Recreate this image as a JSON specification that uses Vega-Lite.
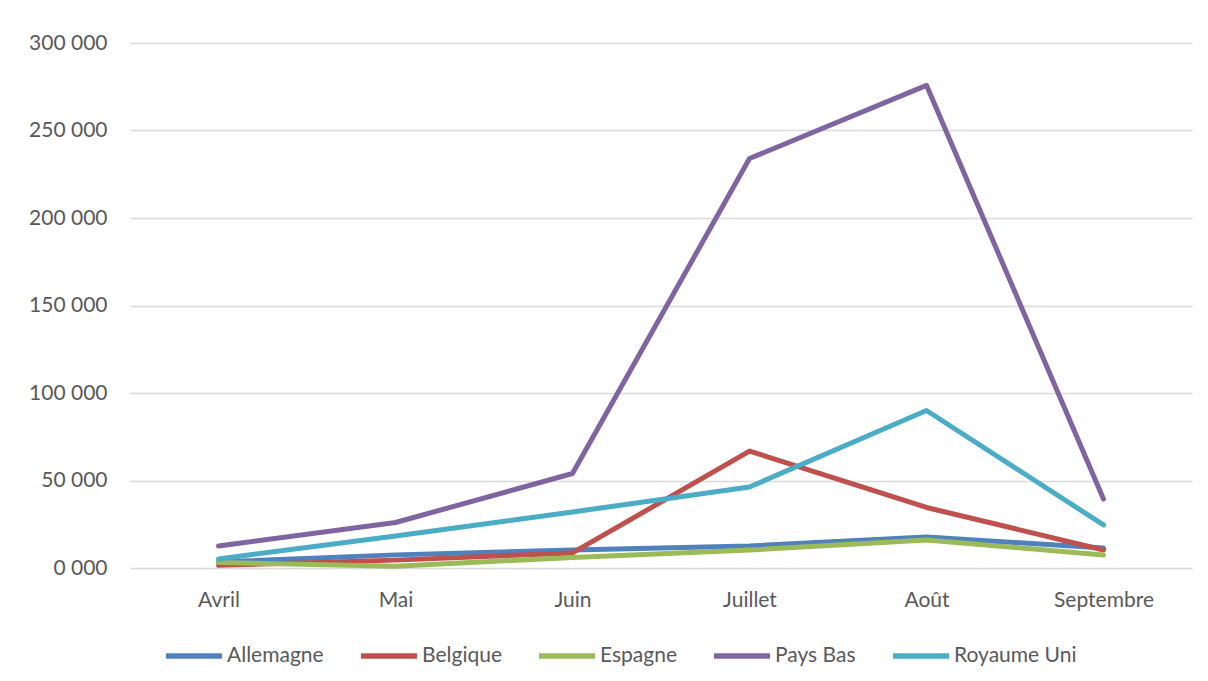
{
  "$schema": "https://vega.github.io/schema/vega-lite/v6.json",
  "autosize": {"type": "none"},
  "width": 1062,
  "height": 525,
  "padding": {"left": 130, "top": 43, "right": 16, "bottom": 113},
  "background": "white",
  "config": {
    "font": "Lato",
    "view": {"stroke": null}
  },
  "data": {
    "values": [
      {"mois": "Avril", "pays": "Allemagne", "valeur": 3500},
      {"mois": "Mai", "pays": "Allemagne", "valeur": 7500},
      {"mois": "Juin", "pays": "Allemagne", "valeur": 10300},
      {"mois": "Juillet", "pays": "Allemagne", "valeur": 12600},
      {"mois": "Août", "pays": "Allemagne", "valeur": 17700},
      {"mois": "Septembre", "pays": "Allemagne", "valeur": 11400},
      {"mois": "Avril", "pays": "Belgique", "valeur": 1500},
      {"mois": "Mai", "pays": "Belgique", "valeur": 4500},
      {"mois": "Juin", "pays": "Belgique", "valeur": 8600},
      {"mois": "Juillet", "pays": "Belgique", "valeur": 66800},
      {"mois": "Août", "pays": "Belgique", "valeur": 34600},
      {"mois": "Septembre", "pays": "Belgique", "valeur": 10300},
      {"mois": "Avril", "pays": "Espagne", "valeur": 3200},
      {"mois": "Mai", "pays": "Espagne", "valeur": 1000},
      {"mois": "Juin", "pays": "Espagne", "valeur": 6000},
      {"mois": "Juillet", "pays": "Espagne", "valeur": 10300},
      {"mois": "Août", "pays": "Espagne", "valeur": 16000},
      {"mois": "Septembre", "pays": "Espagne", "valeur": 7400},
      {"mois": "Avril", "pays": "Pays Bas", "valeur": 12600},
      {"mois": "Mai", "pays": "Pays Bas", "valeur": 26000},
      {"mois": "Juin", "pays": "Pays Bas", "valeur": 54000},
      {"mois": "Juillet", "pays": "Pays Bas", "valeur": 234000},
      {"mois": "Août", "pays": "Pays Bas", "valeur": 275800},
      {"mois": "Septembre", "pays": "Pays Bas", "valeur": 39400},
      {"mois": "Avril", "pays": "Royaume Uni", "valeur": 5200},
      {"mois": "Mai", "pays": "Royaume Uni", "valeur": 18300},
      {"mois": "Juin", "pays": "Royaume Uni", "valeur": 32000},
      {"mois": "Juillet", "pays": "Royaume Uni", "valeur": 46300},
      {"mois": "Août", "pays": "Royaume Uni", "valeur": 90000},
      {"mois": "Septembre", "pays": "Royaume Uni", "valeur": 24600}
    ]
  },
  "mark": {"type": "line", "strokeWidth": 5, "strokeCap": "round", "strokeJoin": "round"},
  "encoding": {
    "x": {
      "field": "mois",
      "type": "nominal",
      "sort": ["Avril", "Mai", "Juin", "Juillet", "Août", "Septembre"],
      "scale": {"type": "point", "padding": 0.5},
      "axis": {
        "title": null,
        "labelAngle": 0,
        "labelFontSize": 21,
        "labelColor": "#595959",
        "labelPadding": 21,
        "ticks": false,
        "domain": false,
        "grid": false
      }
    },
    "y": {
      "field": "valeur",
      "type": "quantitative",
      "scale": {"domain": [0, 300000], "nice": false},
      "axis": {
        "title": null,
        "values": [0, 50000, 100000, 150000, 200000, 250000, 300000],
        "labelExpr": "datum.value == 0 ? '0 000' : replace(format(datum.value, ','), ',', ' ')",
        "labelFontSize": 21,
        "labelColor": "#595959",
        "labelPadding": 23,
        "ticks": false,
        "domain": false,
        "gridColor": "#d9d9d9",
        "gridWidth": 1.5
      }
    },
    "color": {
      "field": "pays",
      "type": "nominal",
      "scale": {
        "domain": ["Allemagne", "Belgique", "Espagne", "Pays Bas", "Royaume Uni"],
        "range": ["#4F81BD", "#C0504D", "#9BBB59", "#8064A2", "#4BACC6"]
      },
      "legend": {
        "title": null,
        "orient": "none",
        "direction": "horizontal",
        "legendX": 33,
        "legendY": 582,
        "symbolType": "stroke",
        "symbolSize": 3136,
        "symbolStrokeWidth": 5.5,
        "labelFontSize": 21,
        "labelColor": "#595959",
        "labelOffset": 2,
        "columnPadding": 26
      }
    }
  }
}
